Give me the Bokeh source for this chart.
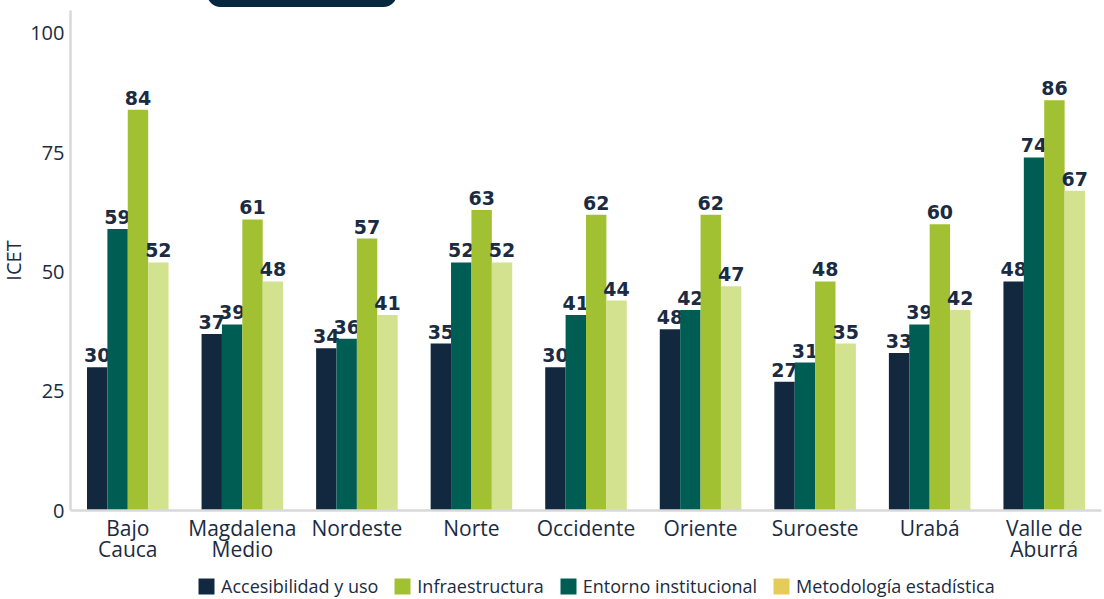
from bokeh.plotting import figure
from bokeh.models import ColumnDataSource, FactorRange, Legend, LegendItem, Range1d, InlineStyleSheet
from bokeh.transform import dodge
from bokeh.layouts import column
from bokeh.core.properties import value
from bokeh.embed import file_html
from bokeh.resources import INLINE

# ---- data ----
categories = ["Bajo\nCauca", "Magdalena\nMedio", "Nordeste", "Norte", "Occidente",
              "Oriente", "Suroeste", "Urabá", "Valle de\nAburrá"]
accesibilidad = [30, 37, 34, 35, 30, 38, 27, 33, 48]
accesibilidad_labels = ["30", "37", "34", "35", "30", "48", "27", "33", "48"]
entorno = [59, 39, 36, 52, 41, 42, 31, 39, 74]
infraestructura = [84, 61, 57, 63, 62, 62, 48, 60, 86]
metodologia = [52, 48, 41, 52, 44, 47, 35, 42, 67]
series_names = ["Accesibilidad y uso", "Infraestructura", "Entorno institucional", "Metodología estadística"]
y_ticks = [0, 25, 50, 75, 100]

NAVY = "#11283F"
TEAL = "#005D54"
GREEN = "#A2C132"
LIGHT = "#D2E28E"
YELLOW = "#E4CC5B"
TEXT = "#1A2B42"
AXIS = "#D9D9D9"

src = ColumnDataSource(dict(
    cat=categories,
    acc=accesibilidad, acc_lbl=accesibilidad_labels,
    ent=entorno, ent_lbl=[str(v) for v in entorno],
    inf=infraestructura, inf_lbl=[str(v) for v in infraestructura],
    met=metodologia, met_lbl=[str(v) for v in metodologia],
))

badge_css = InlineStyleSheet(css=""":host::before {
  content: ""; position: fixed; left: 207px; top: -20px; width: 190px; height: 27px;
  background: #06283F; border-radius: 20px; z-index: 10;
}""")

p = figure(x_range=FactorRange(*categories, range_padding=0),
           y_range=Range1d(0, 104.8),
           frame_width=1033, frame_height=500,
           output_backend="svg", toolbar_location=None,
           min_border_left=0, min_border_top=10, min_border_right=0, min_border_bottom=0,
           stylesheets=[badge_css])
p.margin = (0, 0, 0, -3)

p.outline_line_color = None
p.xgrid.grid_line_color = None
p.ygrid.grid_line_color = None
p.border_fill_alpha = 0

bw = 0.178
series = [("acc", -0.267, NAVY), ("ent", -0.089, TEAL), ("inf", 0.089, GREEN), ("met", 0.267, LIGHT)]
for key, off, col in series:
    p.vbar(x=dodge("cat", off, range=p.x_range), top=key, width=bw,
           source=src, fill_color=col, line_color=None)
    p.text(x=dodge("cat", off, range=p.x_range), y=key, text=key + "_lbl", source=src,
           text_align="center", text_baseline="bottom", y_offset=-5,
           text_font=value("DejaVu Sans"), text_font_style="bold",
           text_font_size="19px", text_color=TEXT)

p.yaxis.ticker = y_ticks
p.yaxis.axis_label = "ICET"
p.yaxis.axis_label_text_font = "Open Sans"
p.yaxis.axis_label_text_font_style = "normal"
p.yaxis.axis_label_text_font_size = "20px"
p.yaxis.axis_label_text_color = TEXT
p.yaxis.axis_label_standoff = 0
p.yaxis.major_label_text_font = "Open Sans"
p.yaxis.major_label_text_font_size = "20px"
p.yaxis.major_label_text_color = TEXT
p.yaxis.major_label_standoff = 0
p.yaxis.major_tick_line_color = None
p.yaxis.minor_tick_line_color = None
p.yaxis.axis_line_color = AXIS
p.yaxis.axis_line_width = 2.5

p.xaxis.major_label_text_font = "Open Sans"
p.xaxis.major_label_text_font_size = "21px"
p.xaxis.major_label_text_color = TEXT
p.xaxis.major_label_text_line_height = 0.75
p.xaxis.major_label_standoff = -3
p.xaxis.major_tick_line_color = None
p.xaxis.minor_tick_line_color = None
p.xaxis.axis_line_color = AXIS
p.xaxis.axis_line_width = 2.5

# ---- legend strip (separate figure below the chart) ----
lg = figure(x_range=Range1d(0, 1), y_range=Range1d(0, 1), width=1104, height=24,
            output_backend="svg", toolbar_location=None,
            x_axis_location=None, y_axis_location=None,
            min_border_left=0, min_border_right=0, min_border_top=0, min_border_bottom=0)
lg.margin = (11, 0, 0, 0)
lg.grid.visible = False
lg.outline_line_color = None
lg.background_fill_alpha = 0
lg.border_fill_alpha = 0
swatch_colors = [NAVY, GREEN, TEAL, YELLOW]
items = []
for name, col in zip(series_names, swatch_colors):
    r = lg.vbar(x=[0.5], top=[0], bottom=[0], width=0.01, fill_color=col, line_color=None)
    items.append(LegendItem(label=name, renderers=[r]))
legend = Legend(items=items, orientation="horizontal", location=(123, 2))
legend.label_text_font = "Open Sans"
legend.label_text_font_size = "18px"
legend.label_text_color = TEXT
legend.label_height = 20
legend.glyph_width = 20
legend.glyph_height = 20
legend.label_standoff = 5
legend.spacing = 14
legend.padding = 0
legend.margin = 0
legend.border_line_color = None
legend.background_fill_alpha = 0
lg.add_layout(legend, "center")

layout = column(p, lg, spacing=0)
open("out.html", "w").write(file_html(layout, INLINE))
